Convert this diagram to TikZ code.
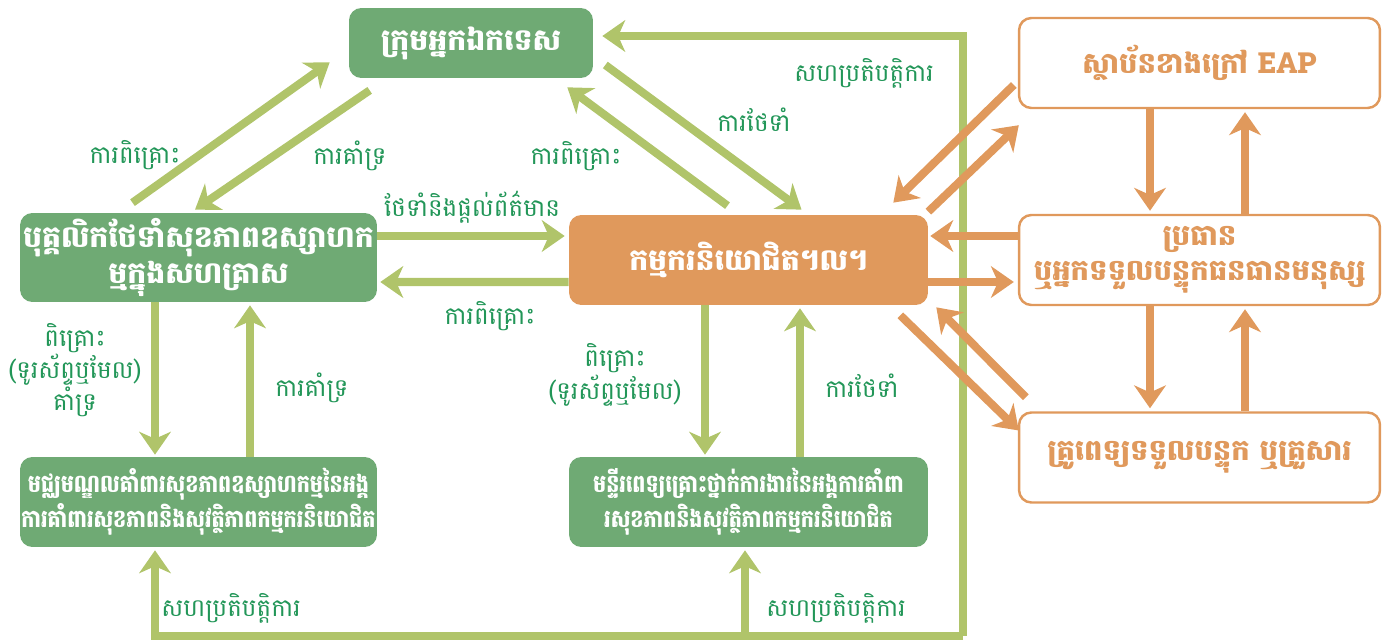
\documentclass[tikz,border=0pt]{standalone}
\usepackage{fontspec}
\setmainfont{Battambang}[Script=Khmer]
\newfontfamily\khnarrow{Battambang}[Script=Khmer, FakeStretch=0.84]
\usepackage{tikz}
\usetikzlibrary{calc,arrows.meta}

\definecolor{boxgreen}{RGB}{111,170,116}
\definecolor{arrowgreen}{RGB}{176,196,106}
\definecolor{textgreen}{RGB}{34,150,88}
\definecolor{boxorange}{RGB}{224,153,92}

\begin{document}
\begin{tikzpicture}[x=0.02cm, y=-0.02cm,
	gbox/.style={fill=boxgreen, rounded corners=7pt, text=white, align=center, inner sep=0pt, font=\bfseries\fontsize{17}{21}\selectfont},
	obox/.style={draw=boxorange, line width=1.4pt, fill=white, rounded corners=7pt, text=boxorange, align=center, inner sep=0pt, minimum width=7.22cm, minimum height=1.8cm, font=\bfseries\fontsize{16.5}{20}\selectfont},
	lbl/.style={text=textgreen, align=center, inner sep=0pt, font=\fontsize{14}{17}\selectfont},
	garrow/.style={draw=arrowgreen, line width=4.6pt, -{Stealth[length=13pt,width=18pt,inset=4pt]}},
	oarrow/.style={draw=boxorange, line width=4.6pt, -{Stealth[length=13pt,width=18pt,inset=4pt]}}]

	\useasboundingbox (0,0) rectangle (1383,642);

	% draw green boxes
	\node[gbox, minimum width=4.88cm, minimum height=1.4cm] (team) at (471,43) {ក្រុមអ្នកឯកទេស};
	\node[gbox, minimum width=7.14cm, minimum height=1.78cm] (staff) at (198.5,257.5) {បុគ្គលិកថែទាំសុខភាពឧស្សាហក\\ម្មក្នុងសហគ្រាស};
	\node[gbox, fill=boxorange, minimum width=7.18cm, minimum height=1.8cm] (worker) at (748.5,260) {កម្មករនិយោជិត។ល។};
	\node[gbox, minimum width=7.14cm, minimum height=1.8cm, font=\khnarrow\bfseries\fontsize{14}{20}\selectfont] (center) at (198.5,502) {មជ្ឈមណ្ឌលគាំពារសុខភាពឧស្សាហកម្មនៃអង្គ\\ការគាំពារសុខភាពនិងសុវត្ថិភាពកម្មករនិយោជិត};
	\node[gbox, minimum width=7.18cm, minimum height=1.8cm, font=\khnarrow\bfseries\fontsize{14}{20}\selectfont] (hospital) at (748.5,502) {មន្ទីរពេទ្យគ្រោះថ្នាក់ការងារនៃអង្គការគាំពា\\រសុខភាពនិងសុវត្ថិភាពកម្មករនិយោជិត};

	% draw orange boxes
	\node[obox] (eap) at (1199.5,63) {ស្ថាប័នខាងក្រៅ EAP};
	\node[obox] (hr) at (1199.5,260) {ប្រធាន\\ឬអ្នកទទួលបន្ទុកធនធានមនុស្ស};
	\node[obox] (doctor) at (1199.5,457.5) {គ្រូពេទ្យទទួលបន្ទុក ឬគ្រួសារ};

	% draw green arrows
	\draw[garrow] ($(staff.north)+(-66,-10)$) -- ($(team.south west)+(-19,-16)$);
	\draw[garrow] ($(team.south west)+(21,12)$) -- ($(staff.north)+(-3.5,-3)$);
	\draw[garrow] ($(worker.north)+(-21,-9)$) -- ($(team.south east)+(-26,9)$);
	\draw[garrow] ($(team.east)+(12,22)$) -- ($(worker.north)+(53,-5)$);
	\draw[garrow] ($(staff.east)+(0,-21.5)$) -- ($(worker.west)+(-4,-24)$);
	\draw[garrow] ($(worker.west)+(0,22)$) -- ($(staff.east)+(3,24.5)$);
	\foreach \a/\b in {staff/center, worker/hospital}
	{
		\draw[garrow] ($(\a.south)+(-43.5,0)$) -- ($(\b.north)+(-43.5,-2)$);
		\draw[garrow] ($(\b.north)+(51.5,0)$) -- ($(\a.south)+(51.5,3)$);
	}

	% draw cooperation loop
	\coordinate (lp) at (963,636);
	\coordinate (hb) at ($(hospital.south)+(-3.5,3)$);
	\draw[garrow] (lp) |- ($(team.east)+(9,-7)$);
	\draw[garrow] (lp) -| ($(center.south)+(-43.5,3)$);
	\draw[garrow] (hb |- lp) -- (hb);

	% draw orange arrows
	\draw[oarrow] ($(eap.west)+(-4,22)$) -- ($(worker.north east)+(-35,-12)$);
	\draw[oarrow] ($(worker.north east)+(0,-3)$) -- ($(eap.south west)+(1,16)$);
	\draw[oarrow] ($(hr.west)+(0,-24)$) -- ($(worker.east)+(2,-24)$);
	\draw[oarrow] ($(worker.east)+(0,22)$) -- ($(hr.west)+(-4,22)$);
	\draw[oarrow] ($(worker.south east)+(-28,10)$) -- ($(doctor.west)+(1,-27)$);
	\draw[oarrow] ($(doctor.north west)+(8,-14)$) -- ($(worker.south east)+(8,2)$);
	\foreach \a/\b in {eap/hr, hr/doctor}
	{
		\draw[oarrow] ($(\a.south)+(-49.5,0)$) -- ($(\b.north)+(-49.5,-3)$);
		\draw[oarrow] ($(\b.north)+(45.5,0)$) -- ($(\a.south)+(45.5,3)$);
	}

	% draw labels
	\node[lbl] (l_consult1) at (135,155) {ការពិគ្រោះ};
	\node[lbl] (l_support1) at (350,156) {ការគាំទ្រ};
	\node[lbl] (l_consult2) at (576,156) {ការពិគ្រោះ};
	\node[lbl] (l_care1) at (754,120) {ការថែទាំ};
	\node[lbl] (l_coop1) at (864,73) {សហប្រតិបត្តិការ};
	\node[lbl] (l_inform) at (472,207) {ថែទាំនិងផ្តល់ព័ត៌មាន};
	\node[lbl] (l_consult3) at (490,316) {ការពិគ្រោះ};
	\node[lbl] (l_phone1) at (75,370) {ពិគ្រោះ\\(ទូរស័ព្ទឬមែល)\\គាំទ្រ};
	\node[lbl] (l_support2) at (312,388) {ការគាំទ្រ};
	\node[lbl] (l_phone2) at (615,375) {ពិគ្រោះ\\(ទូរស័ព្ទឬមែល)};
	\node[lbl] (l_care2) at (862,386) {ការថែទាំ};
	\node[lbl] (l_coop2) at (231,608) {សហប្រតិបត្តិការ};
	\node[lbl] (l_coop3) at (836,608) {សហប្រតិបត្តិការ};

\end{tikzpicture}
\end{document}
